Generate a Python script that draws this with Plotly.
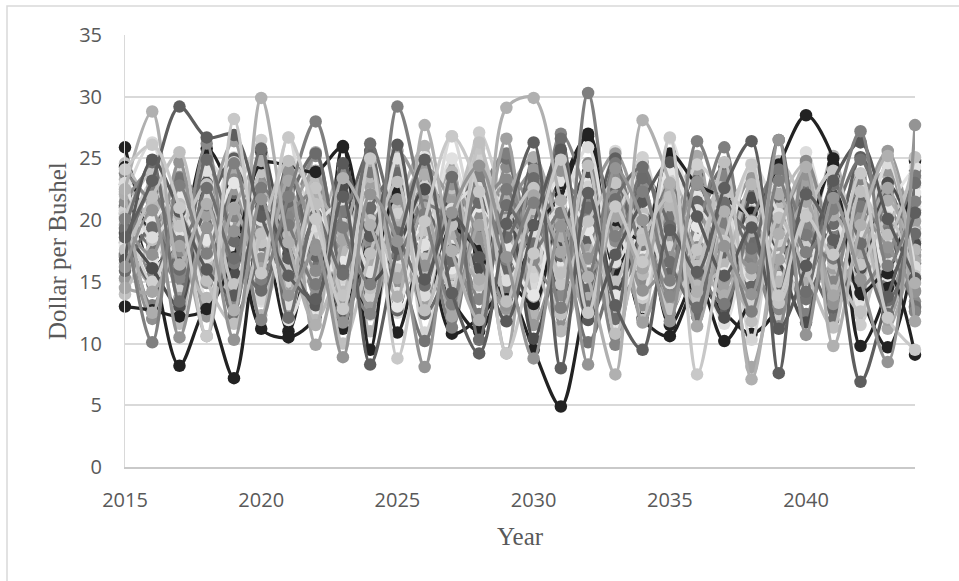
import plotly.graph_objects as go

# Simulated price paths, 2015-2044 (dollars per bushel)
years = list(range(2015, 2045))

p01 = [13.0, 12.7, 12.2, 12.8, 17.0, 24.6, 24.4, 23.9, 25.9, 16.0, 22.4, 15.0, 19.3, 17.5, 13.6, 19.2, 22.0, 27.0, 20.0, 18.5, 25.4, 22.9, 21.8, 20.6, 24.5, 28.5, 25.0, 14.1, 15.7, 9.1]
p02 = [25.9, 17.0, 8.2, 12.8, 7.2, 19.5, 11.0, 18.8, 11.2, 23.0, 10.9, 17.8, 10.8, 12.1, 14.3, 9.5, 4.9, 14.2, 19.3, 12.0, 10.6, 14.7, 12.5, 10.8, 13.0, 19.4, 21.0, 14.0, 9.7, 17.6]
p03 = [24.3, 16.4, 18.5, 25.8, 21.4, 11.2, 10.5, 12.2, 26.0, 9.5, 22.7, 17.8, 13.5, 11.0, 15.0, 13.2, 22.5, 26.8, 16.0, 20.4, 11.5, 15.3, 10.2, 13.6, 17.2, 19.0, 24.5, 9.8, 14.5, 24.8]
p04 = [20.1, 10.1, 22.8, 17.3, 24.6, 15.2, 21.9, 28.0, 19.4, 14.8, 29.2, 20.5, 13.2, 23.6, 16.8, 21.4, 12.9, 30.3, 18.7, 22.3, 15.1, 26.4, 19.8, 12.6, 23.2, 17.4, 20.9, 27.2, 16.3, 21.5]
p05 = [22.5, 28.8, 16.4, 21.3, 12.7, 29.9, 18.2, 11.5, 23.4, 19.6, 13.8, 27.7, 17.5, 11.9, 29.1, 29.9, 21.6, 15.4, 7.5, 28.1, 23.0, 14.2, 20.7, 7.1, 18.9, 24.3, 9.8, 19.6, 25.2, 14.9]
p06 = [18.6, 23.2, 29.2, 26.7, 26.9, 20.3, 15.5, 13.6, 21.9, 8.3, 17.7, 24.9, 14.1, 9.2, 19.7, 26.3, 8.0, 22.2, 13.1, 9.5, 19.2, 15.8, 22.6, 26.4, 7.6, 22.1, 18.4, 6.9, 13.8, 20.6]
p07 = [24.1, 26.1, 21.0, 10.6, 28.2, 15.7, 26.7, 20.1, 12.8, 25.0, 8.8, 19.9, 26.8, 22.3, 9.2, 17.3, 24.9, 12.5, 21.1, 16.6, 26.7, 7.5, 18.3, 24.5, 13.9, 20.3, 17.2, 23.8, 12.1, 9.5]
p08 = [16.2, 20.8, 10.5, 19.4, 10.3, 21.7, 13.9, 17.6, 8.9, 22.1, 18.3, 8.1, 20.6, 24.4, 17.0, 8.8, 19.5, 8.3, 24.2, 20.0, 11.8, 23.1, 17.9, 14.0, 26.5, 10.7, 21.8, 15.2, 8.5, 27.7]
p09 = [21.9, 26.3, 15.8, 24.7, 22.0, 19.1, 26.7, 14.4, 20.5, 12.3, 23.6, 17.8, 26.8, 19.2, 23.9, 14.5, 21.2, 18.8, 25.6, 12.2, 17.5, 20.9, 14.8, 22.7, 12.9, 18.5, 24.1, 13.6, 19.9, 16.0]
p10 = [14.5, 14.2, 17.9, 10.6, 20.9, 16.1, 23.2, 9.9, 18.4, 24.8, 15.3, 21.0, 12.2, 19.6, 9.2, 22.0, 17.4, 12.8, 20.3, 16.1, 22.8, 11.4, 19.3, 8.1, 16.8, 21.5, 13.9, 18.0, 22.6, 11.8]
p11 = [19.3, 24.7, 13.4, 22.6, 16.9, 25.8, 12.1, 20.4, 15.6, 26.2, 19.0, 14.7, 23.5, 10.3, 21.2, 18.1, 26.6, 13.0, 21.7, 24.3, 16.6, 12.9, 21.4, 17.7, 26.5, 14.2, 22.9, 18.1, 12.4, 23.0]
p12 = [17.6, 21.9, 25.5, 15.1, 11.6, 18.9, 24.8, 21.3, 10.0, 17.3, 23.1, 12.7, 19.6, 26.3, 13.4, 20.9, 15.7, 24.4, 10.8, 18.4, 21.9, 16.3, 24.7, 11.8, 20.2, 15.9, 11.3, 22.3, 18.8, 25.1]
p13 = [22.9, 15.5, 20.1, 13.2, 23.3, 16.4, 20.0, 25.2, 17.1, 21.4, 14.6, 23.7, 18.9, 12.0, 24.3, 20.2, 12.6, 18.5, 23.8, 15.1, 19.9, 13.7, 23.2, 19.8, 16.2, 22.7, 12.8, 16.9, 21.2, 13.4]
p14 = [19.9, 18.1, 24.0, 19.7, 25.1, 13.4, 17.6, 22.8, 14.9, 19.0, 12.5, 16.6, 21.3, 15.6, 18.0, 23.6, 14.1, 20.1, 16.7, 22.1, 14.4, 18.7, 13.0, 21.0, 15.4, 25.5, 19.1, 22.4, 17.0, 20.4]
p15 = [16.8, 24.9, 20.7, 16.0, 13.9, 21.1, 16.9, 13.1, 24.6, 18.7, 26.1, 15.2, 20.4, 17.0, 11.8, 19.6, 25.7, 11.9, 17.2, 21.5, 24.7, 20.3, 15.5, 19.4, 11.2, 16.3, 23.2, 26.3, 20.1, 15.3]
p16 = [23.3, 19.6, 16.6, 21.8, 18.8, 12.3, 22.0, 19.1, 24.4, 11.0, 20.9, 26.0, 16.3, 22.7, 19.3, 12.4, 20.6, 16.0, 12.3, 24.7, 18.1, 22.4, 16.6, 12.7, 21.6, 18.2, 25.2, 15.8, 23.7, 19.3]
p17 = [20.5, 13.1, 19.0, 23.7, 15.0, 18.0, 13.6, 23.9, 18.2, 15.2, 22.3, 19.4, 11.3, 21.6, 25.4, 17.4, 23.1, 20.5, 14.7, 17.5, 12.5, 19.2, 25.9, 15.2, 20.8, 12.4, 18.9, 22.0, 14.9, 24.0]
p18 = [18.1, 23.1, 14.3, 17.7, 21.6, 26.5, 14.6, 18.6, 22.3, 13.8, 20.3, 24.6, 15.8, 27.1, 20.8, 16.2, 19.4, 23.1, 17.9, 13.7, 23.7, 16.9, 20.1, 24.0, 12.0, 17.8, 21.7, 11.5, 20.9, 22.8]
p19 = [15.3, 20.0, 22.5, 12.4, 19.7, 22.8, 16.8, 12.8, 20.8, 16.3, 25.6, 21.7, 16.9, 19.7, 22.9, 11.5, 17.8, 21.6, 25.4, 19.3, 13.3, 21.1, 15.3, 17.1, 22.6, 19.8, 14.7, 20.6, 25.6, 17.1]
p20 = [21.2, 17.9, 23.4, 20.6, 12.2, 17.4, 22.5, 16.2, 13.4, 20.6, 16.7, 10.2, 18.6, 24.0, 14.4, 22.5, 18.9, 10.1, 16.5, 23.6, 20.4, 15.0, 18.7, 22.2, 19.0, 13.6, 20.1, 24.9, 18.4, 13.0]
p21 = [22.7, 16.2, 18.7, 24.0, 17.6, 21.4, 11.9, 17.7, 23.0, 21.6, 14.1, 18.0, 25.0, 16.5, 12.0, 20.4, 23.2, 15.9, 19.3, 14.0, 26.6, 18.4, 11.6, 19.6, 23.8, 16.6, 20.4, 13.0, 18.2, 21.1]
p22 = [17.0, 22.6, 13.7, 20.4, 26.4, 18.5, 20.7, 24.0, 13.0, 22.8, 18.9, 13.0, 22.0, 18.3, 26.6, 13.8, 21.0, 17.6, 22.6, 11.7, 18.6, 24.1, 14.4, 20.7, 17.6, 23.2, 16.1, 20.8, 11.9, 19.9]
p23 = [19.0, 14.9, 20.9, 17.2, 22.2, 14.8, 24.6, 17.1, 20.1, 25.6, 12.7, 20.7, 17.6, 22.9, 15.9, 24.7, 19.8, 14.4, 22.7, 17.8, 15.7, 21.5, 17.3, 14.6, 21.9, 17.1, 12.9, 18.3, 22.3, 16.5]
p24 = [14.0, 18.4, 21.3, 16.6, 14.2, 23.9, 19.2, 15.3, 18.6, 14.5, 21.0, 16.9, 22.6, 20.0, 17.3, 21.5, 12.4, 19.8, 15.0, 20.6, 16.9, 13.5, 19.6, 15.6, 24.8, 20.9, 16.5, 12.6, 19.4, 23.4]
p25 = [23.8, 21.2, 15.3, 19.0, 20.3, 11.9, 20.3, 22.2, 16.3, 12.4, 24.7, 14.3, 20.0, 13.6, 20.2, 18.5, 27.0, 21.4, 9.9, 18.9, 14.0, 19.9, 23.6, 16.9, 12.8, 19.6, 15.0, 23.3, 19.7, 12.6]
p26 = [20.8, 15.0, 19.9, 22.1, 16.2, 20.2, 15.0, 21.6, 19.7, 17.0, 20.5, 22.7, 14.6, 24.9, 17.7, 19.1, 15.8, 22.7, 20.6, 25.1, 17.8, 24.5, 21.5, 13.3, 18.3, 21.0, 23.9, 17.5, 16.0, 19.0]
p27 = [18.9, 16.1, 13.0, 23.0, 15.7, 25.5, 17.3, 13.3, 22.8, 15.0, 17.7, 22.5, 20.7, 16.1, 21.3, 10.4, 18.4, 23.9, 14.2, 19.2, 22.2, 17.1, 12.1, 21.8, 16.8, 11.7, 22.4, 16.1, 23.0, 18.1]
p28 = [16.5, 21.5, 17.6, 13.7, 19.0, 22.0, 18.8, 11.9, 17.4, 23.5, 19.6, 15.6, 23.9, 14.7, 19.8, 16.9, 11.0, 17.0, 21.9, 15.6, 21.2, 14.7, 16.4, 22.9, 15.0, 21.9, 14.3, 19.6, 12.7, 17.6]
p29 = [21.5, 24.0, 17.5, 26.2, 13.4, 19.8, 21.2, 15.9, 24.1, 18.4, 15.9, 19.3, 12.6, 20.5, 23.3, 16.8, 13.9, 24.6, 18.3, 22.7, 13.8, 17.8, 21.0, 17.4, 11.4, 24.8, 18.0, 14.6, 17.4, 21.9]
p30 = [17.9, 19.9, 22.3, 18.4, 23.0, 17.0, 16.3, 20.7, 16.6, 22.1, 13.0, 20.2, 16.1, 21.1, 17.8, 13.9, 22.0, 19.2, 13.9, 17.2, 24.1, 19.5, 15.7, 20.3, 17.0, 14.5, 19.6, 21.8, 15.5, 22.2]
p31 = [15.9, 19.4, 16.0, 24.9, 18.3, 14.3, 21.5, 25.4, 15.9, 21.0, 23.8, 12.4, 16.7, 21.4, 18.6, 23.4, 17.1, 21.0, 12.0, 23.4, 19.5, 12.2, 20.6, 18.6, 14.0, 22.0, 19.7, 22.0, 13.5, 18.9]
p32 = [22.1, 12.5, 20.5, 15.6, 21.0, 24.8, 14.0, 21.9, 19.0, 16.6, 19.4, 23.7, 18.9, 15.2, 21.9, 25.1, 18.7, 13.7, 20.8, 16.8, 22.5, 17.3, 13.9, 19.1, 22.1, 15.2, 20.4, 17.4, 21.6, 16.7]
p33 = [19.6, 17.2, 24.7, 14.9, 19.1, 16.9, 24.0, 18.0, 11.7, 19.6, 21.7, 16.3, 22.9, 18.6, 13.1, 20.7, 24.0, 16.9, 22.0, 14.3, 17.0, 22.9, 19.2, 16.1, 19.7, 23.7, 13.2, 20.2, 17.8, 14.2]
p34 = [23.0, 18.6, 20.9, 17.0, 24.7, 20.0, 13.2, 19.5, 21.3, 15.8, 25.0, 13.9, 20.9, 22.6, 15.1, 18.7, 21.3, 25.9, 16.6, 20.1, 14.9, 20.8, 18.5, 24.6, 20.5, 16.8, 22.9, 18.9, 24.6, 16.2]
p35 = [17.3, 22.3, 18.3, 21.2, 16.5, 22.6, 19.6, 14.8, 20.7, 23.9, 17.2, 21.2, 19.8, 12.4, 22.5, 17.6, 20.6, 15.6, 24.6, 18.0, 22.9, 16.1, 13.2, 20.0, 24.1, 18.8, 16.9, 21.1, 19.0, 23.6]
p36 = [20.3, 23.8, 19.5, 22.9, 14.8, 18.2, 16.1, 22.6, 13.9, 20.0, 16.0, 19.2, 14.3, 25.8, 20.0, 22.6, 14.8, 19.9, 23.0, 18.9, 12.8, 17.6, 22.1, 19.9, 13.3, 20.4, 24.0, 16.4, 20.2, 15.5]
p37 = [18.2, 14.8, 21.6, 19.2, 23.8, 21.0, 12.9, 25.5, 16.7, 21.2, 13.6, 18.5, 24.2, 11.6, 17.2, 21.9, 19.0, 12.1, 23.4, 17.9, 20.3, 25.2, 14.1, 17.3, 22.9, 14.8, 19.3, 23.6, 11.2, 18.3]
p38 = [21.0, 19.1, 14.7, 24.4, 12.5, 22.3, 19.9, 16.5, 21.8, 13.1, 23.3, 19.7, 15.1, 21.9, 25.0, 12.9, 20.5, 18.3, 15.8, 22.9, 13.5, 20.1, 24.3, 18.1, 15.8, 23.1, 11.9, 20.7, 16.7, 21.4]
p39 = [15.1, 22.9, 18.2, 22.4, 16.3, 13.6, 23.6, 20.4, 15.3, 19.9, 21.8, 10.9, 19.0, 23.4, 20.6, 15.4, 25.3, 19.7, 13.4, 21.9, 18.3, 15.4, 21.7, 10.3, 20.6, 17.2, 22.6, 14.4, 22.4, 20.0]
p40 = [19.4, 12.0, 23.5, 15.8, 20.6, 23.2, 20.8, 13.9, 23.6, 17.9, 14.9, 24.0, 13.9, 18.1, 20.9, 23.9, 11.4, 20.0, 17.4, 13.1, 21.2, 18.9, 16.0, 22.1, 19.0, 12.2, 23.0, 17.8, 14.0, 20.8]
p41 = [24.6, 20.5, 11.6, 22.9, 17.9, 14.6, 18.0, 23.5, 14.2, 24.9, 18.1, 22.4, 15.6, 26.1, 12.9, 19.8, 23.9, 17.5, 21.7, 11.9, 24.3, 19.5, 23.3, 13.8, 21.3, 24.6, 15.8, 12.3, 21.5, 18.5]
p42 = [17.1, 21.3, 16.8, 21.0, 25.0, 17.8, 14.8, 20.9, 12.2, 17.4, 21.0, 17.1, 22.4, 19.4, 16.0, 21.1, 14.0, 18.2, 25.0, 16.2, 19.1, 23.6, 12.4, 19.9, 14.5, 21.6, 18.0, 25.1, 19.5, 12.9]
p43 = [20.7, 16.7, 22.1, 13.7, 20.3, 24.1, 17.6, 12.6, 19.6, 23.4, 16.6, 25.1, 18.0, 14.2, 22.7, 19.0, 16.3, 23.3, 11.3, 19.8, 16.0, 21.9, 20.0, 14.9, 23.1, 16.0, 21.1, 12.8, 20.9, 24.3]
p44 = [22.3, 18.9, 19.8, 12.2, 22.5, 15.9, 23.4, 19.6, 17.5, 12.9, 20.1, 24.3, 21.5, 16.8, 12.8, 24.1, 20.3, 15.7, 19.6, 24.6, 17.3, 12.5, 18.5, 23.4, 16.4, 20.6, 13.6, 21.3, 24.0, 14.3]

# drawing order (later paths sit on top)
paths = [p09, p37, p13, p38, p14, p02, p39, p16, p40, p17, p41, p18,
         p19, p03, p42, p20, p21, p43, p22, p23, p24, p44, p25, p26,
         p27, p28, p29, p30, p01, p31, p32, p33, p34, p35, p36, p10,
         p11, p12, p15, p04, p05, p06, p07, p08]

shades = ["#d9d9d9", "#a8a8a8", "#8c8c8c", "#707070", "#dcdcdc", "#222222",
          "#d4d4d4", "#b3b3b3", "#909090", "#7f7f7f", "#bcbcbc", "#cccccc",
          "#999999", "#222222", "#5f5f5f", "#737373", "#e0e0e0", "#e3e3e3",
          "#a0a0a0", "#666666", "#c0c0c0", "#999999", "#858585", "#d0d0d0",
          "#4d4d4d", "#b8b8b8", "#8a8a8a", "#e6e6e6", "#222222", "#6b6b6b",
          "#adadad", "#939393", "#dcdcdc", "#7a7a7a", "#c4c4c4", "#a6a6a6",
          "#6e6e6e", "#bfbfbf", "#595959", "#7f7f7f", "#b0b0b0", "#5e5e5e",
          "#c8c8c8", "#949494"]

fig = go.Figure()
for i, (vals, col) in enumerate(zip(paths, shades)):
    fig.add_trace(go.Scatter(
        x=years, y=vals, mode="lines+markers", name=f"Path {i + 1}",
        line=dict(color=col, width=3.2, shape="spline", smoothing=0.9),
        marker=dict(color=col, size=12.5, line=dict(width=0)),
        cliponaxis=False, showlegend=False, hoverinfo="x+y",
    ))

tick_font = dict(family="Open Sans, Liberation Sans, sans-serif", size=20, color="#595959")
title_font = dict(family="Liberation Serif, Times New Roman, serif", size=25, color="#595959")

fig.update_layout(
    width=959, height=581,
    margin=dict(l=125, r=44, t=35, b=114),
    paper_bgcolor="white", plot_bgcolor="white",
    xaxis=dict(range=[2015, 2044], tickmode="linear", tick0=2015, dtick=5,
               showgrid=False, zeroline=False, showline=True,
               linecolor="#c9c9c9", linewidth=1.5, ticks="",
               tickfont=tick_font, ticklabelstandoff=14),
    yaxis=dict(range=[0, 35], tickmode="linear", tick0=0, dtick=5,
               showgrid=True, gridcolor="#d9d9d9", gridwidth=1.5,
               zeroline=False, showline=True, linecolor="#d9d9d9", linewidth=1,
               ticks="", tickfont=tick_font, ticklabelstandoff=18),
    annotations=[
        dict(text="Year", xref="paper", yref="paper", x=0.5, y=-0.162,
             xanchor="center", yanchor="middle", showarrow=False, font=title_font),
        dict(text="Dollar per Bushel", xref="paper", yref="paper", x=-0.086, y=0.5,
             xanchor="center", yanchor="middle", textangle=-90, showarrow=False,
             font=title_font),
    ],
    shapes=[
        dict(type="rect", xref="paper", yref="paper",
             x0=-118 / 790, y0=1 + 29 / 432, x1=1.2, y1=-0.4,
             line=dict(color="#d9d9d9", width=1.5), fillcolor="rgba(0,0,0,0)",
             layer="below"),
    ],
)

fig.write_html("out.html")
